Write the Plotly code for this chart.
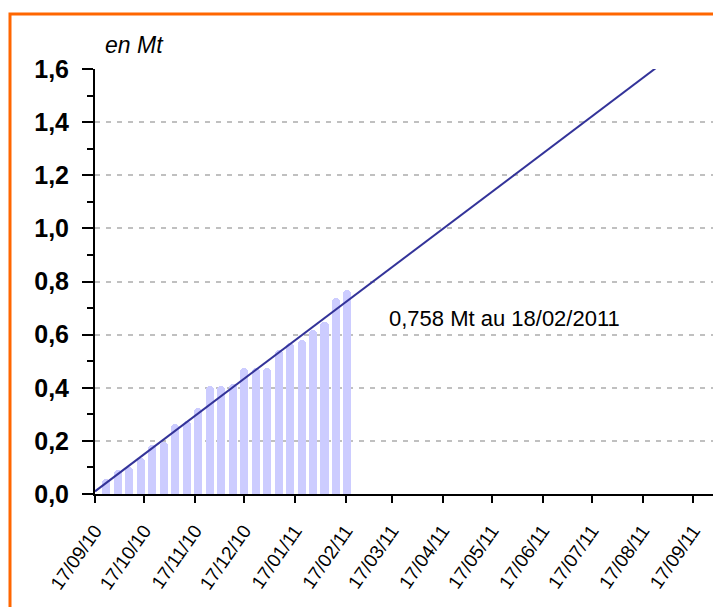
import plotly.graph_objects as go

# ---- data ----
bar_dates = ["2010-09-24", "2010-10-01", "2010-10-08", "2010-10-15", "2010-10-22",
             "2010-10-29", "2010-11-05", "2010-11-12", "2010-11-19", "2010-11-26",
             "2010-12-03", "2010-12-10", "2010-12-17", "2010-12-24", "2010-12-31",
             "2011-01-07", "2011-01-14", "2011-01-21", "2011-01-28", "2011-02-04",
             "2011-02-11", "2011-02-18"]
bar_values = [0.045, 0.080, 0.093, 0.124, 0.174, 0.187, 0.254, 0.266, 0.312, 0.397,
              0.397, 0.404, 0.463, 0.463, 0.463, 0.532, 0.557, 0.570, 0.607, 0.639,
              0.727, 0.758]

line_dates = ["2010-09-17", "2011-09-17"]
line_values = [0.01, 1.71]

x_tick_dates = ["2010-09-17", "2010-10-17", "2010-11-17", "2010-12-17", "2011-01-17",
                "2011-02-17", "2011-03-17", "2011-04-17", "2011-05-17", "2011-06-17",
                "2011-07-17", "2011-08-17", "2011-09-17"]
x_tick_labels = ["17/09/10", "17/10/10", "17/11/10", "17/12/10", "17/01/11", "17/02/11",
                 "17/03/11", "17/04/11", "17/05/11", "17/06/11", "17/07/11", "17/08/11",
                 "17/09/11"]
y_tick_values = [0, 0.2, 0.4, 0.6, 0.8, 1.0, 1.2, 1.4, 1.6]
y_tick_labels = ["0,0", "0,2", "0,4", "0,6", "0,8", "1,0", "1,2", "1,4", "1,6"]

unit_label = "en Mt"
note_text = "0,758 Mt au 18/02/2011"

# ---- style ----
FONT = "Liberation Sans, Arial, sans-serif"
CAP = 0.01  # round cap of the bar tops
W, H = 713, 607
ML, MR, MT, MB = 95, 0, 69, 113

fig = go.Figure()
fig.add_trace(go.Bar(
    x=bar_dates, y=[v + CAP for v in bar_values],
    marker=dict(color="#CCCCFF", line=dict(width=0), cornerradius=4),
    width=4.9 * 86400000, hoverinfo="skip",
))
fig.add_trace(go.Scatter(
    x=line_dates, y=line_values, mode="lines",
    line=dict(color="#333399", width=2), hoverinfo="skip",
))

pw = W - ML - MR
ph = H - MT - MB

def px_x(p):
    return (p - ML) / pw

def px_y(p):
    return (H - MB - p) / ph

fig.add_shape(type="rect", xref="paper", yref="paper",
              x0=px_x(10), x1=px_x(W + 10), y0=px_y(H + 10), y1=px_y(14),
              line=dict(color="#FF6600", width=3), fillcolor="rgba(0,0,0,0)",
              layer="above")

fig.add_annotation(text=unit_label, xref="paper", yref="paper",
                   x=px_x(103), y=px_y(45), xanchor="left", yanchor="middle",
                   showarrow=False,
                   font=dict(family=FONT, size=23, color="#000000", style="italic"))
fig.add_annotation(text=note_text, xref="paper", yref="y",
                   x=px_x(387), y=0.659, xanchor="left", yanchor="middle",
                   showarrow=False,
                   font=dict(family=FONT, size=22, color="#000000"))

fig.update_layout(
    width=W, height=H,
    margin=dict(l=ML, r=MR, t=MT, b=MB, pad=0),
    paper_bgcolor="white", plot_bgcolor="white",
    showlegend=False, bargap=0,
    font=dict(family=FONT, color="#000000"),
)
fig.update_xaxes(
    type="date", range=["2010-09-17", "2011-09-29"],
    tickmode="array", tickvals=x_tick_dates, ticktext=x_tick_labels,
    tickangle=-55, tickfont=dict(family=FONT, size=19),
    ticks="outside", ticklen=7, tickwidth=2, tickcolor="#000000",
    ticklabelstandoff=9,
    showline=True, linecolor="#000000", linewidth=2,
    showgrid=False, zeroline=False,
)
fig.update_yaxes(
    range=[0, 1.6],
    tickmode="array", tickvals=y_tick_values, ticktext=y_tick_labels,
    tickfont=dict(family=FONT, size=25, weight="bold"),
    ticks="outside", ticklen=11, tickwidth=2, tickcolor="#000000",
    ticklabelstandoff=8,
    minor=dict(dtick=0.1, ticks="outside", ticklen=6, tickwidth=2,
               tickcolor="#000000", showgrid=False),
    showline=True, linecolor="#000000", linewidth=2,
    showgrid=True, gridcolor="#C0C0C0", gridwidth=2, griddash="5px,6px",
    zeroline=False,
)

fig.write_html("out.html",
               config={"displayModeBar": False},
               post_script="document.body.style.margin='0px';document.body.style.padding='0px';")
